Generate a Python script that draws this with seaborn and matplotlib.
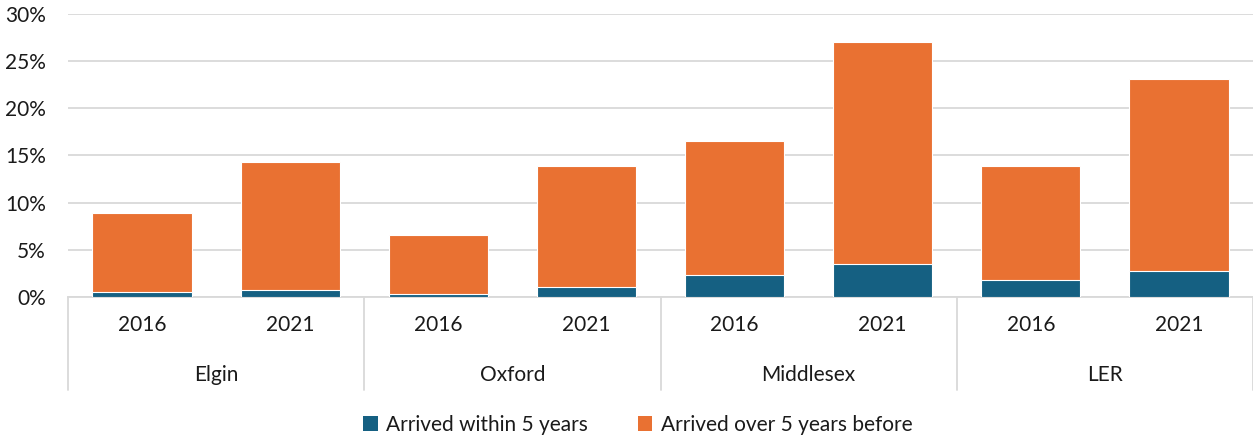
import matplotlib
matplotlib.use("Agg")
import matplotlib.pyplot as plt
import matplotlib.transforms as mtransforms
from matplotlib.patches import Patch
import seaborn as sns
import pandas as pd

regions = ["Elgin", "Oxford", "Middlesex", "LER"]
years = ["2016", "2021"]
within_5 = [0.5, 0.7, 0.3, 1.1, 2.35, 3.5, 1.75, 2.75]
over_5 = [8.45, 13.6, 6.3, 12.8, 14.15, 23.5, 12.15, 20.35]

series_names = ["Arrived within 5 years", "Arrived over 5 years before"]
colors = ["#156082", "#E97132"]

sns.set_theme(style="white")
plt.rcParams["font.family"] = ["Lato", "DejaVu Sans"]

labels = [f"{r} {y}" for r in regions for y in years]
totals = [a + b for a, b in zip(within_5, over_5)]
df = pd.DataFrame({"cat": labels, "within": within_5, "total": totals})

fig = plt.figure(figsize=(12.53, 4.4), dpi=100)
ax = fig.add_axes([68 / 1253, (440 - 297) / 440, 1 - 68 / 1253, (297 - 14) / 440])

sns.barplot(data=df, x="cat", y="total", color=colors[1], saturation=1,
            width=0.67, edgecolor="white", linewidth=0.8, ax=ax, zorder=3)
sns.barplot(data=df, x="cat", y="within", color=colors[0], saturation=1,
            width=0.67, edgecolor="white", linewidth=0.8, ax=ax, zorder=4)

ax.set_ylim(0, 30)
ax.set_xlim(-0.5, len(labels) - 0.5)
ax.set_yticks(range(0, 31, 5))
ax.set_yticklabels([f"{v}%" for v in range(0, 31, 5)])
ax.set_xticks(range(len(labels)))
ax.set_xticklabels([y for r in regions for y in years])
ax.set_xlabel("")
ax.set_ylabel("")
ax.yaxis.grid(True, color="#D9D9D9", linewidth=1.3, zorder=0)
ax.set_axisbelow(True)
for s in ["top", "right", "left"]:
    ax.spines[s].set_visible(False)
ax.spines["bottom"].set_color("#D9D9D9")
ax.spines["bottom"].set_linewidth(1.3)
ax.tick_params(axis="y", length=0, pad=16, labelsize=15, labelcolor="#1a1a1a")
ax.tick_params(axis="x", length=0, pad=13, labelsize=15, labelcolor="#1a1a1a")

trans = mtransforms.blended_transform_factory(ax.transData, ax.transAxes)
for i in range(len(regions) + 1):
    xpos = i * 2 - 0.5
    ax.plot([xpos, xpos], [0, -0.33], transform=trans, color="#D9D9D9",
            linewidth=1.3, clip_on=False)
for i, r in enumerate(regions):
    ax.text(i * 2 + 0.5, -0.276, r, transform=trans, ha="center", va="center",
            fontsize=15, color="#1a1a1a")

handles = [Patch(facecolor=c, edgecolor="none") for c in colors]
fig.legend(handles, series_names, loc="center", bbox_to_anchor=(0.509, 0.034),
           ncol=2, frameon=False, fontsize=15, handlelength=0.7, handleheight=0.7,
           handletextpad=0.4, columnspacing=2.4, labelcolor="#1a1a1a")

fig.savefig("out.png", dpi=100)
